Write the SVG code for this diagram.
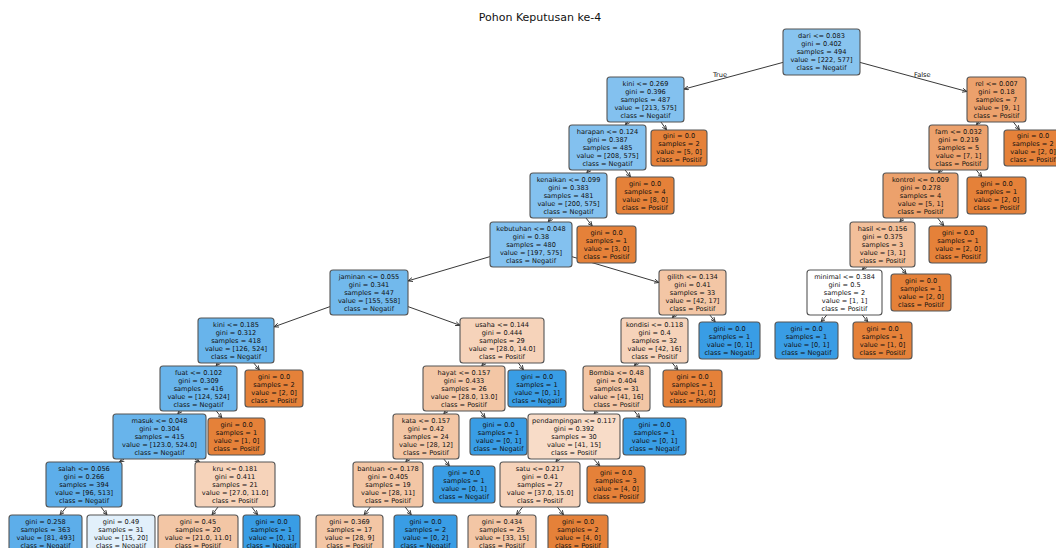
<svg xmlns="http://www.w3.org/2000/svg" width="1056" height="548" viewBox="0 0 1056 548">
<style>
.n rect{stroke:#555;stroke-width:1.1}
.n text{font-family:"DejaVu Sans",sans-serif;font-size:6.6px;fill:#111;text-anchor:middle}
#edges line{stroke:#222;stroke-width:0.9;fill:none;marker-end:url(#ah)}
.lbl{font-family:"DejaVu Sans",sans-serif;font-size:6.6px;fill:#111}
.title{font-family:"DejaVu Sans",sans-serif;font-size:11px;fill:#111;text-anchor:middle}
.c0{fill:#88c4ef}.c1{fill:#83c1ef}.c2{fill:#72b9ec}.c3{fill:#68b4eb}.c4{fill:#5daeea}
.cw{fill:#e2f0fb}.cb{fill:#399de5}.co{fill:#e58139}.cp1{fill:#f6d3ba}.cp2{fill:#f3c6a5}
.cp0{fill:#f8dcc8}.cm{fill:#eca16c}.ch{fill:#f2bf9a}.cwh{fill:#ffffff}
</style>
<defs>
<marker id="ah" viewBox="0 0 8 8" refX="7.5" refY="4" markerWidth="5" markerHeight="5" orient="auto" markerUnits="userSpaceOnUse">
<path d="M0,0.8 L7.5,4 L0,7.2" fill="none" stroke="#222" stroke-width="1.3"/>
</marker>
</defs>
<rect width="1056" height="548" fill="#ffffff"/>
<text class="title" x="540" y="21">Pohon Keputusan ke-4</text>

<g id="edges">
<line x1="783" y1="62.4" x2="684" y2="89.1"/>
<line x1="860" y1="62.4" x2="967" y2="91.5"/>
<line x1="627.7" y1="122" x2="625.3" y2="125"/>
<line x1="661" y1="122" x2="666.6" y2="130"/>
<line x1="978.7" y1="122" x2="976.3" y2="125"/>
<line x1="1013.4" y1="122" x2="1019.5" y2="130"/>
<line x1="589.2" y1="170" x2="586.8" y2="173"/>
<line x1="625.1" y1="170" x2="630.6" y2="177"/>
<line x1="940.7" y1="170" x2="938.3" y2="173"/>
<line x1="976.3" y1="170" x2="981.9" y2="177"/>
<line x1="551.3" y1="218" x2="548.2" y2="222"/>
<line x1="586" y1="218" x2="592.2" y2="226"/>
<line x1="903.1" y1="218" x2="899.9" y2="222"/>
<line x1="937.7" y1="218" x2="943.8" y2="226"/>
<line x1="490" y1="256.6" x2="408" y2="280.9"/>
<line x1="572" y1="256.7" x2="659" y2="282.5"/>
<line x1="864.7" y1="267" x2="862.3" y2="270"/>
<line x1="900.6" y1="267" x2="906.2" y2="274"/>
<line x1="330" y1="306.6" x2="274" y2="326.8"/>
<line x1="408" y1="306.6" x2="460" y2="325.3"/>
<line x1="674.7" y1="315" x2="672.3" y2="318"/>
<line x1="709.9" y1="315" x2="715.2" y2="322"/>
<line x1="826.7" y1="315" x2="821.1" y2="322"/>
<line x1="862.3" y1="315" x2="867.9" y2="322"/>
<line x1="218.4" y1="363" x2="216.1" y2="366"/>
<line x1="253.8" y1="363" x2="259.4" y2="370"/>
<line x1="484.2" y1="363" x2="481.8" y2="366"/>
<line x1="518.4" y1="363" x2="523.5" y2="370"/>
<line x1="636.7" y1="363" x2="634.3" y2="366"/>
<line x1="672.3" y1="363" x2="677.9" y2="370"/>
<line x1="180.2" y1="411" x2="177.8" y2="414"/>
<line x1="216.3" y1="411" x2="221.9" y2="418"/>
<line x1="446.2" y1="411" x2="443.8" y2="414"/>
<line x1="480.2" y1="411" x2="485.2" y2="418"/>
<line x1="596.6" y1="411" x2="594" y2="414"/>
<line x1="634.3" y1="411" x2="639.9" y2="418"/>
<line x1="124.1" y1="459" x2="119.4" y2="462"/>
<line x1="194.9" y1="459" x2="199.6" y2="462"/>
<line x1="408.2" y1="459" x2="405.8" y2="462"/>
<line x1="443.8" y1="459" x2="449.4" y2="466"/>
<line x1="558" y1="459" x2="556" y2="462"/>
<line x1="593.7" y1="459" x2="599.8" y2="466"/>
<line x1="66.3" y1="507" x2="60" y2="515"/>
<line x1="101" y1="507" x2="107" y2="515"/>
<line x1="218" y1="507" x2="212" y2="515"/>
<line x1="251.8" y1="507" x2="257.7" y2="515"/>
<line x1="370.3" y1="507" x2="364.1" y2="515"/>
<line x1="405.2" y1="507" x2="411.3" y2="515"/>
<line x1="522.6" y1="507" x2="516.4" y2="515"/>
<line x1="557.4" y1="507" x2="563.6" y2="515"/>
</g>
<text class="lbl" x="727" y="76.5" text-anchor="end">True</text>
<text class="lbl" x="914" y="76.5">False</text>

<g id="n_root" class="n" transform="translate(821.5,52)"><rect class="c0" x="-38.5" y="-23" width="77" height="46" rx="3"/><text><tspan x="0" y="-13.7">dari &lt;= 0.083</tspan><tspan x="0" y="-5.7">gini = 0.402</tspan><tspan x="0" y="2.3">samples = 494</tspan><tspan x="0" y="10.3">value = [222, 577]</tspan><tspan x="0" y="18.3">class = Negatif</tspan></text></g>
<g id="n_kini" class="n" transform="translate(645.5,99.5)"><rect class="c1" x="-38.5" y="-22.5" width="77" height="45" rx="3"/><text><tspan x="0" y="-13.7">kini &lt;= 0.269</tspan><tspan x="0" y="-5.7">gini = 0.396</tspan><tspan x="0" y="2.3">samples = 487</tspan><tspan x="0" y="10.3">value = [213, 575]</tspan><tspan x="0" y="18.3">class = Negatif</tspan></text></g>
<g id="n_rel" class="n" transform="translate(996.5,99.5)"><rect class="cm" x="-29.5" y="-22.5" width="59" height="45" rx="3"/><text><tspan x="0" y="-13.7">rel &lt;= 0.007</tspan><tspan x="0" y="-5.7">gini = 0.18</tspan><tspan x="0" y="2.3">samples = 7</tspan><tspan x="0" y="10.3">value = [9, 1]</tspan><tspan x="0" y="18.3">class = Positif</tspan></text></g>
<g id="n_harapan" class="n" transform="translate(607.5,147.5)"><rect class="c1" x="-38.5" y="-22.5" width="77" height="45" rx="3"/><text><tspan x="0" y="-13.7">harapan &lt;= 0.124</tspan><tspan x="0" y="-5.7">gini = 0.387</tspan><tspan x="0" y="2.3">samples = 485</tspan><tspan x="0" y="10.3">value = [208, 575]</tspan><tspan x="0" y="18.3">class = Negatif</tspan></text></g>
<g id="n_leafA" class="n" transform="translate(679,148)"><rect class="co" x="-28" y="-18" width="56" height="36" rx="3"/><text><tspan x="0" y="-9.7">gini = 0.0</tspan><tspan x="0" y="-1.7">samples = 2</tspan><tspan x="0" y="6.3">value = [5, 0]</tspan><tspan x="0" y="14.3">class = Positif</tspan></text></g>
<g id="n_fam" class="n" transform="translate(958.5,147.5)"><rect class="cm" x="-29.5" y="-22.5" width="59" height="45" rx="3"/><text><tspan x="0" y="-13.7">fam &lt;= 0.032</tspan><tspan x="0" y="-5.7">gini = 0.219</tspan><tspan x="0" y="2.3">samples = 5</tspan><tspan x="0" y="10.3">value = [7, 1]</tspan><tspan x="0" y="18.3">class = Positif</tspan></text></g>
<g id="n_leafR1" class="n" transform="translate(1033,148)"><rect class="co" x="-29" y="-18" width="58" height="36" rx="3"/><text><tspan x="0" y="-9.7">gini = 0.0</tspan><tspan x="0" y="-1.7">samples = 2</tspan><tspan x="0" y="6.3">value = [2, 0]</tspan><tspan x="0" y="14.3">class = Positif</tspan></text></g>
<g id="n_kenaikan" class="n" transform="translate(568.5,195.5)"><rect class="c1" x="-38.5" y="-22.5" width="77" height="45" rx="3"/><text><tspan x="0" y="-13.7">kenaikan &lt;= 0.099</tspan><tspan x="0" y="-5.7">gini = 0.383</tspan><tspan x="0" y="2.3">samples = 481</tspan><tspan x="0" y="10.3">value = [200, 575]</tspan><tspan x="0" y="18.3">class = Negatif</tspan></text></g>
<g id="n_leafB" class="n" transform="translate(645,195.5)"><rect class="co" x="-29" y="-18.5" width="58" height="37" rx="3"/><text><tspan x="0" y="-9.7">gini = 0.0</tspan><tspan x="0" y="-1.7">samples = 4</tspan><tspan x="0" y="6.3">value = [8, 0]</tspan><tspan x="0" y="14.3">class = Positif</tspan></text></g>
<g id="n_kontrol" class="n" transform="translate(920.5,195.5)"><rect class="cm" x="-37.5" y="-22.5" width="75" height="45" rx="3"/><text><tspan x="0" y="-13.7">kontrol &lt;= 0.009</tspan><tspan x="0" y="-5.7">gini = 0.278</tspan><tspan x="0" y="2.3">samples = 4</tspan><tspan x="0" y="10.3">value = [5, 1]</tspan><tspan x="0" y="18.3">class = Positif</tspan></text></g>
<g id="n_leafR2" class="n" transform="translate(996.5,195.5)"><rect class="co" x="-29.5" y="-18.5" width="59" height="37" rx="3"/><text><tspan x="0" y="-9.7">gini = 0.0</tspan><tspan x="0" y="-1.7">samples = 1</tspan><tspan x="0" y="6.3">value = [2, 0]</tspan><tspan x="0" y="14.3">class = Positif</tspan></text></g>
<g id="n_kebutuhan" class="n" transform="translate(531,244.5)"><rect class="c1" x="-41" y="-22.5" width="82" height="45" rx="3"/><text><tspan x="0" y="-13.7">kebutuhan &lt;= 0.048</tspan><tspan x="0" y="-5.7">gini = 0.38</tspan><tspan x="0" y="2.3">samples = 480</tspan><tspan x="0" y="10.3">value = [197, 575]</tspan><tspan x="0" y="18.3">class = Negatif</tspan></text></g>
<g id="n_leafC" class="n" transform="translate(606.5,244.5)"><rect class="co" x="-29.5" y="-18.5" width="59" height="37" rx="3"/><text><tspan x="0" y="-9.7">gini = 0.0</tspan><tspan x="0" y="-1.7">samples = 1</tspan><tspan x="0" y="6.3">value = [3, 0]</tspan><tspan x="0" y="14.3">class = Positif</tspan></text></g>
<g id="n_hasil" class="n" transform="translate(882.5,244.5)"><rect class="ch" x="-32.5" y="-22.5" width="65" height="45" rx="3"/><text><tspan x="0" y="-13.7">hasil &lt;= 0.156</tspan><tspan x="0" y="-5.7">gini = 0.375</tspan><tspan x="0" y="2.3">samples = 3</tspan><tspan x="0" y="10.3">value = [3, 1]</tspan><tspan x="0" y="18.3">class = Positif</tspan></text></g>
<g id="n_leafR3" class="n" transform="translate(958,244.5)"><rect class="co" x="-29" y="-18.5" width="58" height="37" rx="3"/><text><tspan x="0" y="-9.7">gini = 0.0</tspan><tspan x="0" y="-1.7">samples = 1</tspan><tspan x="0" y="6.3">value = [2, 0]</tspan><tspan x="0" y="14.3">class = Positif</tspan></text></g>
<g id="n_jaminan" class="n" transform="translate(369,292.5)"><rect class="c2" x="-39" y="-22.5" width="78" height="45" rx="3"/><text><tspan x="0" y="-13.7">jaminan &lt;= 0.055</tspan><tspan x="0" y="-5.7">gini = 0.341</tspan><tspan x="0" y="2.3">samples = 447</tspan><tspan x="0" y="10.3">value = [155, 558]</tspan><tspan x="0" y="18.3">class = Negatif</tspan></text></g>
<g id="n_gilith" class="n" transform="translate(692.5,292.5)"><rect class="cp2" x="-33.5" y="-22.5" width="67" height="45" rx="3"/><text><tspan x="0" y="-13.7">gilith &lt;= 0.134</tspan><tspan x="0" y="-5.7">gini = 0.41</tspan><tspan x="0" y="2.3">samples = 33</tspan><tspan x="0" y="10.3">value = [42, 17]</tspan><tspan x="0" y="18.3">class = Positif</tspan></text></g>
<g id="n_minimal" class="n" transform="translate(844.5,292.5)"><rect class="cwh" x="-37.5" y="-22.5" width="75" height="45" rx="3"/><text><tspan x="0" y="-13.7">minimal &lt;= 0.384</tspan><tspan x="0" y="-5.7">gini = 0.5</tspan><tspan x="0" y="2.3">samples = 2</tspan><tspan x="0" y="10.3">value = [1, 1]</tspan><tspan x="0" y="18.3">class = Positif</tspan></text></g>
<g id="n_leafR4" class="n" transform="translate(921,292.5)"><rect class="co" x="-30" y="-18.5" width="60" height="37" rx="3"/><text><tspan x="0" y="-9.7">gini = 0.0</tspan><tspan x="0" y="-1.7">samples = 1</tspan><tspan x="0" y="6.3">value = [2, 0]</tspan><tspan x="0" y="14.3">class = Positif</tspan></text></g>
<g id="n_kini2" class="n" transform="translate(236,340.5)"><rect class="c3" x="-38" y="-22.5" width="76" height="45" rx="3"/><text><tspan x="0" y="-13.7">kini &lt;= 0.185</tspan><tspan x="0" y="-5.7">gini = 0.312</tspan><tspan x="0" y="2.3">samples = 418</tspan><tspan x="0" y="10.3">value = [126, 524]</tspan><tspan x="0" y="18.3">class = Negatif</tspan></text></g>
<g id="n_usaha" class="n" transform="translate(502,340.5)"><rect class="cp1" x="-42" y="-22.5" width="84" height="45" rx="3"/><text><tspan x="0" y="-13.7">usaha &lt;= 0.144</tspan><tspan x="0" y="-5.7">gini = 0.444</tspan><tspan x="0" y="2.3">samples = 29</tspan><tspan x="0" y="10.3">value = [28.0, 14.0]</tspan><tspan x="0" y="18.3">class = Positif</tspan></text></g>
<g id="n_kondisi" class="n" transform="translate(654.5,340.5)"><rect class="cp1" x="-33.5" y="-22.5" width="67" height="45" rx="3"/><text><tspan x="0" y="-13.7">kondisi &lt;= 0.118</tspan><tspan x="0" y="-5.7">gini = 0.4</tspan><tspan x="0" y="2.3">samples = 32</tspan><tspan x="0" y="10.3">value = [42, 16]</tspan><tspan x="0" y="18.3">class = Positif</tspan></text></g>
<g id="n_leafG" class="n" transform="translate(729.5,340.5)"><rect class="cb" x="-30.5" y="-18.5" width="61" height="37" rx="3"/><text><tspan x="0" y="-9.7">gini = 0.0</tspan><tspan x="0" y="-1.7">samples = 1</tspan><tspan x="0" y="6.3">value = [0, 1]</tspan><tspan x="0" y="14.3">class = Negatif</tspan></text></g>
<g id="n_leafR5" class="n" transform="translate(806.5,340.5)"><rect class="cb" x="-31.5" y="-18.5" width="63" height="37" rx="3"/><text><tspan x="0" y="-9.7">gini = 0.0</tspan><tspan x="0" y="-1.7">samples = 1</tspan><tspan x="0" y="6.3">value = [0, 1]</tspan><tspan x="0" y="14.3">class = Negatif</tspan></text></g>
<g id="n_leafR6" class="n" transform="translate(882.5,340.5)"><rect class="co" x="-29.5" y="-18.5" width="59" height="37" rx="3"/><text><tspan x="0" y="-9.7">gini = 0.0</tspan><tspan x="0" y="-1.7">samples = 1</tspan><tspan x="0" y="6.3">value = [1, 0]</tspan><tspan x="0" y="14.3">class = Positif</tspan></text></g>
<g id="n_fuat" class="n" transform="translate(198.5,388.5)"><rect class="c3" x="-38.5" y="-22.5" width="77" height="45" rx="3"/><text><tspan x="0" y="-13.7">fuat &lt;= 0.102</tspan><tspan x="0" y="-5.7">gini = 0.309</tspan><tspan x="0" y="2.3">samples = 416</tspan><tspan x="0" y="10.3">value = [124, 524]</tspan><tspan x="0" y="18.3">class = Negatif</tspan></text></g>
<g id="n_leafD" class="n" transform="translate(274,388.5)"><rect class="co" x="-29" y="-18.5" width="58" height="37" rx="3"/><text><tspan x="0" y="-9.7">gini = 0.0</tspan><tspan x="0" y="-1.7">samples = 2</tspan><tspan x="0" y="6.3">value = [2, 0]</tspan><tspan x="0" y="14.3">class = Positif</tspan></text></g>
<g id="n_hayat" class="n" transform="translate(464,388.5)"><rect class="cp2" x="-41" y="-22.5" width="82" height="45" rx="3"/><text><tspan x="0" y="-13.7">hayat &lt;= 0.157</tspan><tspan x="0" y="-5.7">gini = 0.433</tspan><tspan x="0" y="2.3">samples = 26</tspan><tspan x="0" y="10.3">value = [28.0, 13.0]</tspan><tspan x="0" y="18.3">class = Positif</tspan></text></g>
<g id="n_leafU" class="n" transform="translate(537,388.5)"><rect class="cb" x="-29" y="-18.5" width="58" height="37" rx="3"/><text><tspan x="0" y="-9.7">gini = 0.0</tspan><tspan x="0" y="-1.7">samples = 1</tspan><tspan x="0" y="6.3">value = [0, 1]</tspan><tspan x="0" y="14.3">class = Negatif</tspan></text></g>
<g id="n_bombia" class="n" transform="translate(616.5,388.5)"><rect class="cp2" x="-33.5" y="-22.5" width="67" height="45" rx="3"/><text><tspan x="0" y="-13.7">Bombia &lt;= 0.48</tspan><tspan x="0" y="-5.7">gini = 0.404</tspan><tspan x="0" y="2.3">samples = 31</tspan><tspan x="0" y="10.3">value = [41, 16]</tspan><tspan x="0" y="18.3">class = Positif</tspan></text></g>
<g id="n_leafK" class="n" transform="translate(692.5,388.5)"><rect class="co" x="-29.5" y="-18.5" width="59" height="37" rx="3"/><text><tspan x="0" y="-9.7">gini = 0.0</tspan><tspan x="0" y="-1.7">samples = 1</tspan><tspan x="0" y="6.3">value = [1, 0]</tspan><tspan x="0" y="14.3">class = Positif</tspan></text></g>
<g id="n_masuk" class="n" transform="translate(159.5,436.5)"><rect class="c3" x="-46.5" y="-22.5" width="93" height="45" rx="3"/><text><tspan x="0" y="-13.7">masuk &lt;= 0.048</tspan><tspan x="0" y="-5.7">gini = 0.304</tspan><tspan x="0" y="2.3">samples = 415</tspan><tspan x="0" y="10.3">value = [123.0, 524.0]</tspan><tspan x="0" y="18.3">class = Negatif</tspan></text></g>
<g id="n_leafE" class="n" transform="translate(236.5,436.5)"><rect class="co" x="-28.5" y="-18.5" width="57" height="37" rx="3"/><text><tspan x="0" y="-9.7">gini = 0.0</tspan><tspan x="0" y="-1.7">samples = 1</tspan><tspan x="0" y="6.3">value = [1, 0]</tspan><tspan x="0" y="14.3">class = Positif</tspan></text></g>
<g id="n_kata" class="n" transform="translate(426,436.5)"><rect class="cp2" x="-33" y="-22.5" width="66" height="45" rx="3"/><text><tspan x="0" y="-13.7">kata &lt;= 0.157</tspan><tspan x="0" y="-5.7">gini = 0.42</tspan><tspan x="0" y="2.3">samples = 24</tspan><tspan x="0" y="10.3">value = [28, 12]</tspan><tspan x="0" y="18.3">class = Positif</tspan></text></g>
<g id="n_leafH" class="n" transform="translate(498.5,436.5)"><rect class="cb" x="-28.5" y="-18.5" width="57" height="37" rx="3"/><text><tspan x="0" y="-9.7">gini = 0.0</tspan><tspan x="0" y="-1.7">samples = 1</tspan><tspan x="0" y="6.3">value = [0, 1]</tspan><tspan x="0" y="14.3">class = Negatif</tspan></text></g>
<g id="n_pend" class="n" transform="translate(574,436.5)"><rect class="cp0" x="-46" y="-22.5" width="92" height="45" rx="3"/><text><tspan x="0" y="-13.7">pendampingan &lt;= 0.117</tspan><tspan x="0" y="-5.7">gini = 0.392</tspan><tspan x="0" y="2.3">samples = 30</tspan><tspan x="0" y="10.3">value = [41, 15]</tspan><tspan x="0" y="18.3">class = Positif</tspan></text></g>
<g id="n_leafB2" class="n" transform="translate(654.5,436.5)"><rect class="cb" x="-31.5" y="-18.5" width="63" height="37" rx="3"/><text><tspan x="0" y="-9.7">gini = 0.0</tspan><tspan x="0" y="-1.7">samples = 1</tspan><tspan x="0" y="6.3">value = [0, 1]</tspan><tspan x="0" y="14.3">class = Negatif</tspan></text></g>
<g id="n_salah" class="n" transform="translate(84,484.5)"><rect class="c4" x="-38" y="-22.5" width="76" height="45" rx="3"/><text><tspan x="0" y="-13.7">salah &lt;= 0.056</tspan><tspan x="0" y="-5.7">gini = 0.266</tspan><tspan x="0" y="2.3">samples = 394</tspan><tspan x="0" y="10.3">value = [96, 513]</tspan><tspan x="0" y="18.3">class = Negatif</tspan></text></g>
<g id="n_kru" class="n" transform="translate(235,484.5)"><rect class="cp1" x="-40" y="-22.5" width="80" height="45" rx="3"/><text><tspan x="0" y="-13.7">kru &lt;= 0.181</tspan><tspan x="0" y="-5.7">gini = 0.411</tspan><tspan x="0" y="2.3">samples = 21</tspan><tspan x="0" y="10.3">value = [27.0, 11.0]</tspan><tspan x="0" y="18.3">class = Positif</tspan></text></g>
<g id="n_bantuan" class="n" transform="translate(388,484.5)"><rect class="cp2" x="-35" y="-22.5" width="70" height="45" rx="3"/><text><tspan x="0" y="-13.7">bantuan &lt;= 0.178</tspan><tspan x="0" y="-5.7">gini = 0.405</tspan><tspan x="0" y="2.3">samples = 19</tspan><tspan x="0" y="10.3">value = [28, 11]</tspan><tspan x="0" y="18.3">class = Positif</tspan></text></g>
<g id="n_leafKa" class="n" transform="translate(464,484.5)"><rect class="cb" x="-31" y="-18.5" width="62" height="37" rx="3"/><text><tspan x="0" y="-9.7">gini = 0.0</tspan><tspan x="0" y="-1.7">samples = 1</tspan><tspan x="0" y="6.3">value = [0, 1]</tspan><tspan x="0" y="14.3">class = Negatif</tspan></text></g>
<g id="n_satu" class="n" transform="translate(540,484.5)"><rect class="cp1" x="-40" y="-22.5" width="80" height="45" rx="3"/><text><tspan x="0" y="-13.7">satu &lt;= 0.217</tspan><tspan x="0" y="-5.7">gini = 0.41</tspan><tspan x="0" y="2.3">samples = 27</tspan><tspan x="0" y="10.3">value = [37.0, 15.0]</tspan><tspan x="0" y="18.3">class = Positif</tspan></text></g>
<g id="n_leafP" class="n" transform="translate(616,484.5)"><rect class="co" x="-29" y="-18.5" width="58" height="37" rx="3"/><text><tspan x="0" y="-9.7">gini = 0.0</tspan><tspan x="0" y="-1.7">samples = 3</tspan><tspan x="0" y="6.3">value = [4, 0]</tspan><tspan x="0" y="14.3">class = Positif</tspan></text></g>
<g id="n_L1" class="n" transform="translate(45.5,533.5)"><rect class="c4" x="-36.5" y="-18.5" width="73" height="37" rx="3"/><text><tspan x="0" y="-9.7">gini = 0.258</tspan><tspan x="0" y="-1.7">samples = 363</tspan><tspan x="0" y="6.3">value = [81, 493]</tspan><tspan x="0" y="14.3">class = Negatif</tspan></text></g>
<g id="n_L2" class="n" transform="translate(121,533.5)"><rect class="cw" x="-34" y="-18.5" width="68" height="37" rx="3"/><text><tspan x="0" y="-9.7">gini = 0.49</tspan><tspan x="0" y="-1.7">samples = 31</tspan><tspan x="0" y="6.3">value = [15, 20]</tspan><tspan x="0" y="14.3">class = Negatif</tspan></text></g>
<g id="n_L3" class="n" transform="translate(198,533.5)"><rect class="cp2" x="-40" y="-18.5" width="80" height="37" rx="3"/><text><tspan x="0" y="-9.7">gini = 0.45</tspan><tspan x="0" y="-1.7">samples = 20</tspan><tspan x="0" y="6.3">value = [21.0, 11.0]</tspan><tspan x="0" y="14.3">class = Positif</tspan></text></g>
<g id="n_L4" class="n" transform="translate(271.5,533.5)"><rect class="cb" x="-28.5" y="-18.5" width="57" height="37" rx="3"/><text><tspan x="0" y="-9.7">gini = 0.0</tspan><tspan x="0" y="-1.7">samples = 1</tspan><tspan x="0" y="6.3">value = [0, 1]</tspan><tspan x="0" y="14.3">class = Negatif</tspan></text></g>
<g id="n_L5" class="n" transform="translate(349.5,533.5)"><rect class="cp2" x="-33.5" y="-18.5" width="67" height="37" rx="3"/><text><tspan x="0" y="-9.7">gini = 0.369</tspan><tspan x="0" y="-1.7">samples = 17</tspan><tspan x="0" y="6.3">value = [28, 9]</tspan><tspan x="0" y="14.3">class = Positif</tspan></text></g>
<g id="n_L6" class="n" transform="translate(425.5,533.5)"><rect class="cb" x="-31.5" y="-18.5" width="63" height="37" rx="3"/><text><tspan x="0" y="-9.7">gini = 0.0</tspan><tspan x="0" y="-1.7">samples = 2</tspan><tspan x="0" y="6.3">value = [0, 2]</tspan><tspan x="0" y="14.3">class = Negatif</tspan></text></g>
<g id="n_L7" class="n" transform="translate(502,533.5)"><rect class="cp2" x="-34" y="-18.5" width="68" height="37" rx="3"/><text><tspan x="0" y="-9.7">gini = 0.434</tspan><tspan x="0" y="-1.7">samples = 25</tspan><tspan x="0" y="6.3">value = [33, 15]</tspan><tspan x="0" y="14.3">class = Positif</tspan></text></g>
<g id="n_L8" class="n" transform="translate(578,533.5)"><rect class="co" x="-30" y="-18.5" width="60" height="37" rx="3"/><text><tspan x="0" y="-9.7">gini = 0.0</tspan><tspan x="0" y="-1.7">samples = 2</tspan><tspan x="0" y="6.3">value = [4, 0]</tspan><tspan x="0" y="14.3">class = Positif</tspan></text></g>
</svg>
